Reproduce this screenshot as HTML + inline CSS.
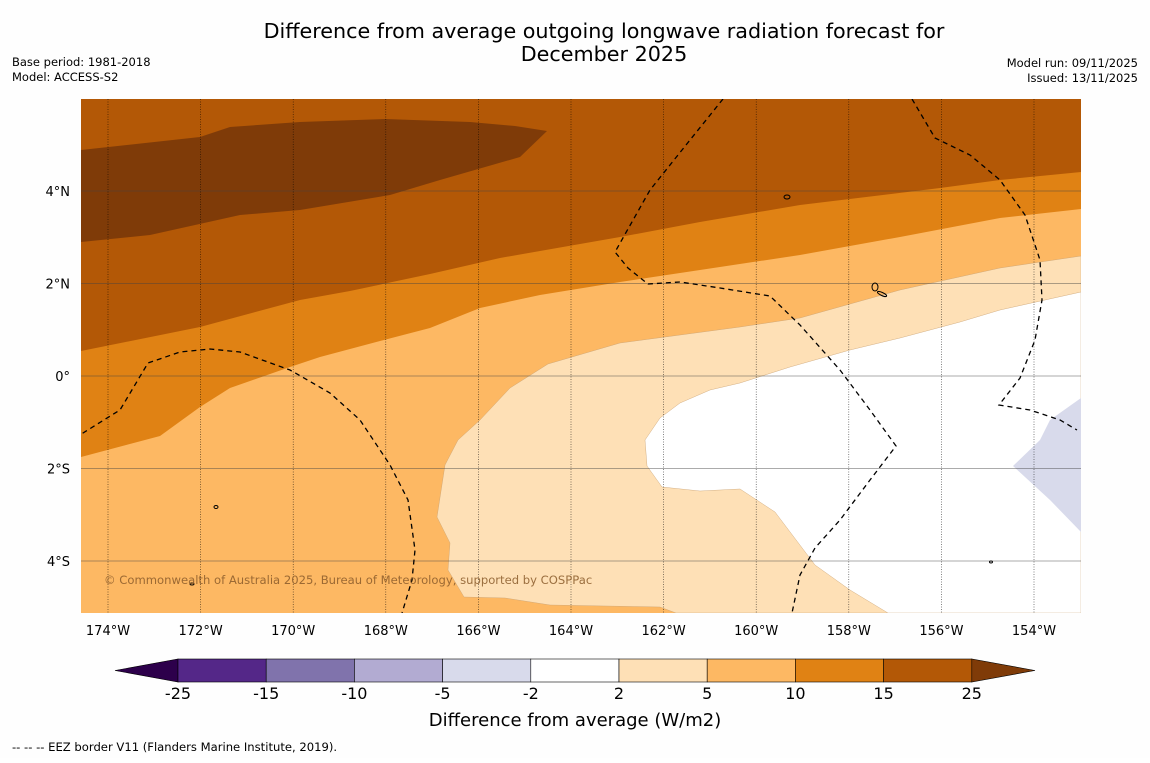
<!DOCTYPE html>
<html><head><meta charset="utf-8"><style>
body{margin:0;background:#fff;width:1150px;height:758px;overflow:hidden;font-family:"Liberation Sans",sans-serif}
svg text{font-family:"DejaVu Sans","Liberation Sans",sans-serif}
</style></head><body>
<svg id="s" width="1150" height="758" xmlns="http://www.w3.org/2000/svg">
<rect width="1150" height="758" fill="#fefefe"/>
<text x="604" y="38" font-size="20.7" text-anchor="middle">Difference from average outgoing longwave radiation forecast for</text>
<text x="604" y="61" font-size="20.7" text-anchor="middle">December 2025</text>
<text x="12" y="66" font-size="11.5">Base period: 1981-2018</text>
<text x="12" y="81" font-size="11.5">Model: ACCESS-S2</text>
<text x="1138" y="67" font-size="11.5" text-anchor="end">Model run: 09/11/2025</text>
<text x="1138" y="82" font-size="11.5" text-anchor="end">Issued: 13/11/2025</text>
<defs><clipPath id="mc"><rect x="81" y="99" width="1000" height="514"/></clipPath></defs>
<g clip-path="url(#mc)">
<rect x="81" y="99" width="1000" height="514" fill="#b35806"/>
<path fill="#7f3b08" d="M81,150 L200,137 230,127 300,122 385,119 470,122 515,126 547,131 520,157 440,180 390,195 300,210 240,215 150,235 81,242Z"/>
<path fill="#e08214" d="M81,351 L200,327 300,300 350,291 430,274 500,258 620,237 700,222 800,205 940,188 1000,180 1081,172 L1081,613 81,613Z"/>
<path fill="#fdb863" d="M81,457 L160,436 200,407 230,388 290,367 320,357 380,341 430,328 480,308 540,295 620,282 700,270 800,255 900,237 1000,218 1081,209 L1081,613 81,613Z"/>
<path fill="#fee0b6" stroke="#c8a070" stroke-width="0.4" d="M1081,256 L1000,268 900,290 800,318 740,327 620,343 548,364 510,388 480,420 458,440 445,465 437,517 450,543 448,570 464,597 505,598 550,605 660,607 676,613 1081,613Z"/>
<path fill="#ffffff" stroke="#c8a070" stroke-width="0.4" d="M1081,292 L1000,310 960,322 900,338 850,350 790,367 740,383 710,390 680,403 660,418 645,440 647,466 662,487 700,491 740,489 775,512 815,565 850,590 888,613 1081,613Z"/>
<path fill="#d8daeb" d="M1081,398 L1050,420 1040,440 1013,466 1050,500 1081,532Z"/>
<g id="grid"></g>
<g fill="none" stroke="#000" stroke-width="1.3" stroke-dasharray="5,4">
<path d="M75,438 L120,410 148,363 180,352 210,349 240,352 290,370 330,393 360,420 390,465 408,500 415,550 412,580 402,613"/>
<path d="M723,99 L690,140 650,190 615,252 628,268 648,284 680,282 720,288 770,296 800,325 840,370 870,410 896,446 870,480 840,520 815,548 800,575 792,613"/>
<path d="M912,99 L935,138 970,155 1000,180 1025,215 1040,260 1042,300 1035,340 1020,378 999,405 1030,410 1060,420 1077,430"/>
</g>
<g fill="none" stroke="#000" stroke-width="1">
<ellipse cx="787" cy="197" rx="3" ry="2"/><ellipse cx="875" cy="287" rx="3" ry="4"/><ellipse cx="882" cy="294" rx="5" ry="1.5" transform="rotate(25 882 294)"/>
<ellipse cx="216" cy="507" rx="2" ry="1.5"/><ellipse cx="192" cy="584" rx="2" ry="1"/><ellipse cx="991" cy="562" rx="1.5" ry="1"/>
</g>
<text x="104" y="584" font-size="11.6" fill="#8a5a2a" fill-opacity="0.85">© Commonwealth of Australia 2025, Bureau of Meteorology, supported by COSPPac</text>
</g>
<g id="axes"></g>
<g id="cbar"></g>
<text x="575" y="726" font-size="18" text-anchor="middle">Difference from average (W/m2)</text>
<text x="12" y="751" font-size="11.6">--  --  -- EEZ border V11 (Flanders Marine Institute, 2019).</text>
</svg>
<script>
const lonTicks=[174,172,170,168,166,164,162,160,158,156,154];
const latTicks=[4,2,0,-2,-4];
const cbLevels=["-25","-15","-10","-5","-2","2","5","10","15","25"];
const cbColors=["#542788","#8073ac","#b2abd2","#d8daeb","#ffffff","#fee0b6","#fdb863","#e08214","#b35806"];
const ns="http://www.w3.org/2000/svg";
function xOf(lonW){return 108+(174-lonW)*46.3;}
function yOf(lat){return 376-lat*46.25;}
function mk(t,a,p){const e=document.createElementNS(ns,t);for(const k in a)e.setAttribute(k,a[k]);p.appendChild(e);return e;}
const grid=document.getElementById('grid'),axes=document.getElementById('axes'),cb=document.getElementById('cbar');
lonTicks.forEach(l=>{const x=xOf(l);
const g=mk('line',{x1:x,x2:x,y1:99,y2:613,stroke:'#000','stroke-width':0.6,'stroke-dasharray':'1,1.5','stroke-opacity':0.8},grid);


const t=mk('text',{x:x,y:635,'font-size':13,'text-anchor':'middle'},axes);t.textContent=l+'°W';

});
latTicks.forEach(l=>{const y=yOf(l);
const g=mk('line',{x1:81,x2:1081,y1:y,y2:y,stroke:'#444','stroke-width':0.7,'stroke-opacity':0.6},grid);


const t=mk('text',{x:70,y:y+5,'font-size':13,'text-anchor':'end'},axes);t.textContent=l==0?'0°':Math.abs(l)+'°'+(l>0?'N':'S');

});
const x0=178,w=88.2,y0=659,h=23;
const la=mk('polygon',{points:`${x0},${y0} ${x0},${y0+h} 115,${y0+h/2}`,fill:'#2d004b',stroke:'#000','stroke-width':0.6},cb);


cbColors.forEach((c,i)=>{const r=mk('rect',{x:x0+i*w,y:y0,width:w,height:h,fill:c,stroke:'#000','stroke-width':0.6},cb);

});
const xe=x0+cbColors.length*w;
const ra=mk('polygon',{points:`${xe},${y0} ${xe},${y0+h} 1035,${y0+h/2}`,fill:'#7f3b08',stroke:'#000','stroke-width':0.6},cb);


cbLevels.forEach((v,i)=>{const t=mk('text',{x:x0+i*w,y:699,'font-size':16,'text-anchor':'middle'},cb);t.textContent=v;

});
</script>
</body></html>
